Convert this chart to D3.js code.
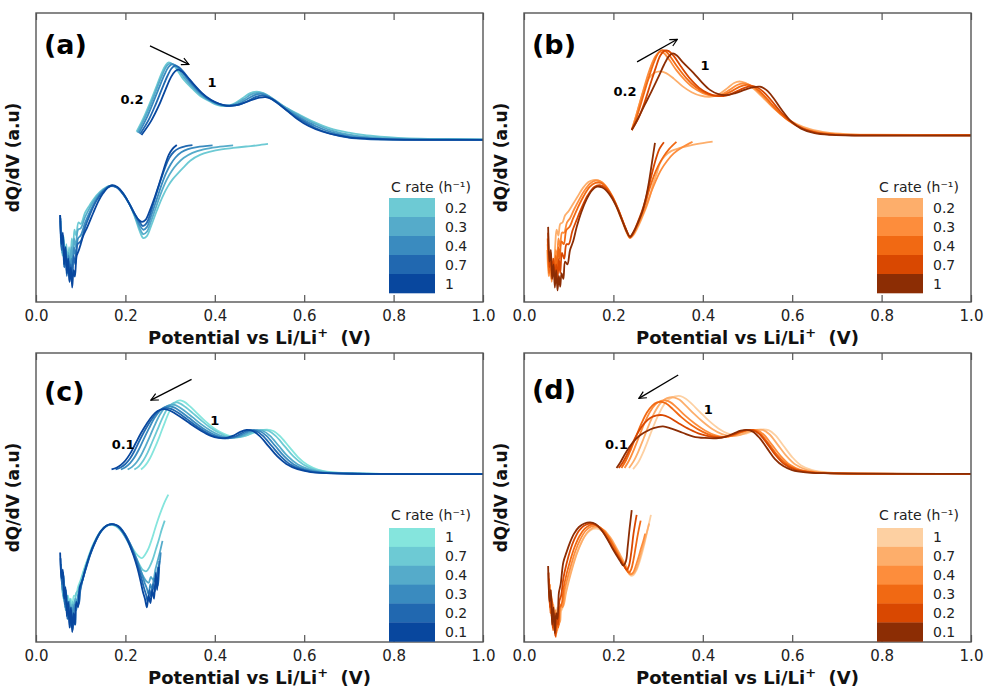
<!DOCTYPE html>
<html>
<head>
<meta charset="utf-8">
<script src="https://cdn.jsdelivr.net/npm/d3@7"></script>
<style>
  body { margin: 0; background: #fff; }
  svg { font-family: "DejaVu Sans", sans-serif; }
</style>
</head>
<body>
<div id="container"></div>
<script>
// ---------- data (potential in V, dQ/dV in arbitrary units) ----------
var xTicks = [0, 0.2, 0.4, 0.6, 0.8, 1.0];

// (a) blue, 0.2 -> 1
var ratesA = ["0.2", "0.3", "0.4", "0.7", "1"];
var chargeA = [
  [[0.225,58.9],[0.24,63.5],[0.255,68.9],[0.268,74],[0.28,78.8],[0.29,81.9],[0.297,82.9],[0.305,82.3],[0.315,80.5],[0.33,77],[0.35,73.8],[0.37,71],[0.39,69.3],[0.405,68.2],[0.42,67.8],[0.44,68.4],[0.46,70.3],[0.478,72.2],[0.494,72.8],[0.51,72.2],[0.53,70.2],[0.555,67.6],[0.583,65.3],[0.62,62.4],[0.658,60.1],[0.70,58.6],[0.732,57.8],[0.77,57.2],[0.81,56.8],[0.86,56.5],[0.92,56.4],[1.0,56.3]],
  [[0.227,58.6],[0.243,63.6],[0.258,69],[0.271,74.2],[0.283,78.8],[0.293,81.8],[0.301,82.6],[0.309,82],[0.32,80.2],[0.335,76.9],[0.355,73.6],[0.375,70.9],[0.395,69.1],[0.41,68.2],[0.425,67.9],[0.445,68.5],[0.465,70.2],[0.483,71.9],[0.499,72.4],[0.515,71.8],[0.535,69.8],[0.56,67.1],[0.588,64.6],[0.625,61.6],[0.66,59.4],[0.70,57.9],[0.74,57.1],[0.78,56.7],[0.83,56.4],[0.9,56.3],[1.0,56.2]],
  [[0.23,58.4],[0.247,63.5],[0.262,69],[0.275,74],[0.287,78.5],[0.297,81.4],[0.305,82.3],[0.313,81.8],[0.325,80],[0.34,76.8],[0.36,73.4],[0.38,70.7],[0.40,69],[0.415,68.2],[0.43,67.9],[0.45,68.4],[0.47,70],[0.488,71.5],[0.503,72],[0.518,71.3],[0.538,69.3],[0.563,66.4],[0.59,63.8],[0.625,60.9],[0.66,58.8],[0.70,57.4],[0.74,56.7],[0.78,56.4],[0.84,56.3],[1.0,56.2]],
  [[0.233,58.1],[0.252,63],[0.268,68.5],[0.282,73.8],[0.294,78.2],[0.303,80.8],[0.311,81.8],[0.319,81.3],[0.33,79.6],[0.345,76.5],[0.365,73.1],[0.385,70.4],[0.405,68.8],[0.42,68.1],[0.435,67.9],[0.455,68.3],[0.475,69.6],[0.492,71],[0.507,71.4],[0.522,70.7],[0.542,68.6],[0.566,65.7],[0.593,63],[0.625,60.2],[0.66,58.2],[0.70,56.9],[0.74,56.4],[0.79,56.2],[1.0,56.1]],
  [[0.236,57.8],[0.257,62.5],[0.275,68],[0.29,73.6],[0.302,77.8],[0.311,79.8],[0.318,80.4],[0.326,79.8],[0.337,78.2],[0.352,75.5],[0.372,72.2],[0.392,69.9],[0.41,68.6],[0.427,67.9],[0.445,68],[0.465,68.9],[0.485,70],[0.5,70.7],[0.514,70.9],[0.528,70.2],[0.547,68.1],[0.568,65.4],[0.583,63.5],[0.61,60.9],[0.64,59],[0.67,57.8],[0.70,57],[0.74,56.5],[0.8,56.2],[1.0,56.1]]
];
var dischargeA = [
  [[0.056,26],[0.059,16],[0.062,22.6],[0.065,14],[0.068,20],[0.071,12],[0.074,19],[0.077,13],[0.08,22],[0.083,18],[0.086,25],[0.09,23],[0.095,27.5],[0.10,27],[0.11,31],[0.12,33.5],[0.135,36.8],[0.15,39],[0.165,40.2],[0.18,39.8],[0.195,37.5],[0.21,33.5],[0.222,29],[0.232,24.5],[0.24,22.1],[0.248,22.8],[0.258,26.5],[0.27,31.5],[0.283,36.4],[0.295,40],[0.306,42.5],[0.318,44.6],[0.329,46.4],[0.345,48.9],[0.367,50.9],[0.39,52],[0.415,52.8],[0.441,53.3],[0.47,53.8],[0.495,54.2],[0.519,54.7]],
  [[0.055,28],[0.058,17],[0.061,23],[0.064,13],[0.067,19],[0.07,11],[0.073,17],[0.076,10],[0.079,19],[0.082,14],[0.085,22],[0.089,19],[0.094,25],[0.10,25.5],[0.11,29.5],[0.12,32.5],[0.135,36.3],[0.15,38.8],[0.165,40.2],[0.18,39.8],[0.195,37.4],[0.21,33.6],[0.222,29.4],[0.232,25.5],[0.24,23.5],[0.248,24.3],[0.258,28.2],[0.27,33.5],[0.282,38.6],[0.293,42.5],[0.304,45.4],[0.315,47.6],[0.33,49.8],[0.35,51.6],[0.375,52.8],[0.405,53.6],[0.441,54.2]],
  [[0.055,29],[0.058,18],[0.061,22],[0.064,12],[0.067,18],[0.07,10],[0.073,16],[0.076,8],[0.079,15],[0.082,11],[0.085,19],[0.089,16],[0.094,22],[0.10,23],[0.11,27.5],[0.12,31],[0.135,35.5],[0.15,38.5],[0.165,40.1],[0.18,39.7],[0.195,37.3],[0.21,33.6],[0.222,29.8],[0.232,26.6],[0.24,25],[0.248,25.9],[0.258,30],[0.27,35.5],[0.281,40.6],[0.291,44.6],[0.301,47.6],[0.312,50],[0.325,51.8],[0.34,52.9],[0.36,53.6],[0.395,54.2]],
  [[0.054,30],[0.057,18],[0.06,23],[0.063,12],[0.066,17],[0.069,9],[0.072,15],[0.075,7],[0.078,13],[0.081,8],[0.084,16],[0.088,13],[0.093,20],[0.10,21],[0.11,26],[0.12,30],[0.135,35],[0.15,38.2],[0.165,40],[0.18,39.7],[0.195,37.3],[0.21,33.7],[0.222,30.2],[0.232,27.6],[0.239,26.3],[0.247,27.2],[0.257,31.2],[0.268,36.8],[0.279,42.2],[0.289,46.6],[0.298,49.8],[0.308,51.9],[0.32,53.2],[0.335,53.9],[0.35,54.3]],
  [[0.054,30.1],[0.057,20],[0.06,24],[0.063,13],[0.066,19],[0.069,10],[0.072,15],[0.075,7],[0.078,12],[0.081,5],[0.084,11],[0.087,8.8],[0.091,16],[0.096,18],[0.10,20],[0.106,23],[0.115,26],[0.128,30.8],[0.14,35],[0.15,37.6],[0.16,39.5],[0.17,40.4],[0.182,39.8],[0.195,37.6],[0.208,34.2],[0.22,30.6],[0.23,28.4],[0.237,27.7],[0.245,28.4],[0.255,31.8],[0.266,36.4],[0.275,40.6],[0.283,44.5],[0.29,48],[0.297,50.9],[0.305,52.9],[0.315,54.3]]
];
var arrowA = [0.255, 88.6, 0.342, 82.2];
var notesA = [["0.2", 0.215, 69.9], ["1", 0.394, 75.8]];

// (b) orange, 0.2 -> 1
var ratesB = ["0.2", "0.3", "0.4", "0.7", "1"];
var chargeB = [
  [[0.241,59.5],[0.25,64],[0.26,69.5],[0.27,74.3],[0.28,77.5],[0.292,79.3],[0.305,79.8],[0.318,79.2],[0.335,77.3],[0.355,74.6],[0.375,72.6],[0.395,71.4],[0.415,71],[0.435,71.8],[0.455,74],[0.47,75.8],[0.482,76.3],[0.495,75.8],[0.51,74.3],[0.53,71.4],[0.555,67.6],[0.58,64.4],[0.61,61.6],[0.64,59.8],[0.68,58.6],[0.72,58.1],[0.78,57.9],[1.0,57.8]],
  [[0.241,59.5],[0.251,64.5],[0.262,70.5],[0.273,76.5],[0.284,81.6],[0.294,85],[0.303,86.5],[0.312,86.2],[0.325,83.8],[0.34,80.4],[0.36,76.8],[0.38,74],[0.40,72.3],[0.42,71.4],[0.44,71.7],[0.46,73.4],[0.477,75.1],[0.49,75.6],[0.503,75.2],[0.518,73.6],[0.538,70.6],[0.56,66.9],[0.585,63.6],[0.615,60.8],[0.645,59.2],[0.68,58.3],[0.73,57.9],[1.0,57.8]],
  [[0.241,59.5],[0.253,64.3],[0.265,70.4],[0.277,76.6],[0.288,81.8],[0.298,85.5],[0.307,87.1],[0.316,86.9],[0.328,84.8],[0.343,81.4],[0.363,77.5],[0.383,74.5],[0.403,72.5],[0.423,71.4],[0.443,71.5],[0.463,72.8],[0.483,74.5],[0.498,75.1],[0.511,74.7],[0.526,73.1],[0.545,70.1],[0.566,66.4],[0.59,63],[0.62,60.2],[0.65,58.8],[0.69,58],[0.74,57.8],[1.0,57.7]],
  [[0.241,59.5],[0.256,63.6],[0.27,69.2],[0.283,75.5],[0.295,81.2],[0.305,85.3],[0.315,87],[0.324,86.8],[0.336,84.9],[0.352,81.3],[0.372,77.2],[0.392,74.1],[0.412,72.2],[0.432,71.3],[0.452,71.4],[0.472,72.6],[0.492,74],[0.507,74.7],[0.52,74.4],[0.535,72.8],[0.553,69.8],[0.573,66],[0.596,62.6],[0.625,59.9],[0.655,58.5],[0.69,57.9],[0.74,57.7],[1.0,57.7]],
  [[0.241,59.5],[0.255,63.5],[0.27,68.2],[0.285,72.8],[0.3,77.6],[0.313,82],[0.324,85],[0.333,86],[0.342,85.3],[0.355,83],[0.379,79.3],[0.398,76],[0.416,73.4],[0.435,71.9],[0.453,71.6],[0.473,72.3],[0.495,73.5],[0.512,74.3],[0.528,74.5],[0.542,73.4],[0.558,70.6],[0.576,66.6],[0.597,62.6],[0.62,60],[0.65,58.4],[0.69,57.8],[0.74,57.6],[1.0,57.6]]
];
var dischargeB = [
  [[0.052,18],[0.055,9],[0.058,14],[0.061,8],[0.064,15],[0.067,12],[0.07,20],[0.073,25],[0.077,23],[0.081,27],[0.086,27.5],[0.092,30],[0.1,31.5],[0.11,34],[0.12,36.5],[0.132,39.5],[0.144,41.5],[0.155,42.2],[0.167,42],[0.18,40.5],[0.194,37.2],[0.208,32.5],[0.22,27.8],[0.23,23.8],[0.237,22.1],[0.245,23.2],[0.255,26],[0.265,29.5],[0.274,33],[0.282,36.8],[0.289,41],[0.297,44.5],[0.304,48],[0.315,50.5],[0.33,52.3],[0.349,53.3],[0.375,54.3],[0.40,55],[0.422,55.5]],
  [[0.053,20],[0.056,9],[0.059,15],[0.062,7],[0.065,14],[0.068,10],[0.071,18],[0.074,14],[0.077,22],[0.081,19],[0.085,24],[0.09,24],[0.096,27.5],[0.103,29],[0.112,32],[0.122,35],[0.135,38.5],[0.148,41],[0.16,42],[0.172,41.7],[0.185,39.8],[0.198,36.5],[0.211,32],[0.222,27.5],[0.231,23.8],[0.237,22.2],[0.245,23.5],[0.254,26.3],[0.264,29.7],[0.274,33.4],[0.284,37.8],[0.295,42],[0.307,45.8],[0.32,48.8],[0.335,51.4],[0.355,53.6],[0.377,55.4]],
  [[0.053,22],[0.056,10],[0.059,16],[0.062,8],[0.065,14],[0.068,9],[0.071,16],[0.074,11],[0.077,19],[0.08,15],[0.084,21],[0.089,20],[0.095,25],[0.102,26],[0.11,29],[0.12,32.5],[0.133,36.5],[0.147,39.8],[0.16,41.2],[0.172,41.2],[0.185,39.5],[0.198,36.3],[0.211,32],[0.222,27.5],[0.231,24],[0.237,22.3],[0.245,23.8],[0.254,26.8],[0.263,30.2],[0.272,34.3],[0.28,38.8],[0.29,43.4],[0.30,47],[0.312,50.3],[0.325,53],[0.341,55.4]],
  [[0.054,24],[0.057,12],[0.06,17],[0.063,9],[0.066,15],[0.069,7],[0.072,13],[0.075,8],[0.078,15],[0.081,10],[0.085,17],[0.09,15],[0.095,20],[0.10,20],[0.108,24.5],[0.118,28.5],[0.13,33],[0.143,37],[0.157,39.8],[0.17,40.4],[0.183,39.3],[0.197,36.4],[0.21,32.2],[0.222,27.6],[0.231,24.2],[0.237,22.5],[0.245,24.2],[0.254,27.4],[0.263,31],[0.272,35.5],[0.28,40.5],[0.288,45.5],[0.296,50],[0.303,53],[0.313,55.3]],
  [[0.054,26],[0.057,14],[0.06,18],[0.063,8],[0.066,13],[0.069,5],[0.072,11],[0.075,4],[0.078,9],[0.081,5.3],[0.084,10],[0.088,8],[0.092,14],[0.097,13],[0.103,18],[0.11,21],[0.118,26],[0.128,31],[0.14,35.5],[0.152,38.6],[0.163,39.9],[0.175,39.6],[0.19,37.5],[0.205,33.6],[0.218,28.8],[0.228,25],[0.237,22.6],[0.246,24.5],[0.255,27.5],[0.265,31.5],[0.274,37],[0.28,42],[0.286,48],[0.293,55.1]]
];
var arrowB = [0.253, 83.1, 0.343, 90.9];
var notesB = [["0.2", 0.226, 73], ["1", 0.405, 81.7]];

// (c) blue, 1 -> 0.1
var ratesC = ["1", "0.7", "0.4", "0.3", "0.2", "0.1"];
var chargeC = [
  [[0.235,59.7],[0.245,61.2],[0.255,63.6],[0.265,66.9],[0.276,71],[0.287,75.5],[0.298,79.6],[0.308,82.3],[0.316,83.4],[0.323,83.6],[0.332,83.1],[0.344,81.6],[0.36,79.2],[0.378,76.5],[0.398,74],[0.418,72.2],[0.435,71.2],[0.448,71],[0.465,71.3],[0.483,72.2],[0.5,73.1],[0.517,73.5],[0.531,73],[0.546,71.2],[0.566,67.6],[0.586,64],[0.607,61.3],[0.632,59.6],[0.66,58.8],[0.7,58.4],[0.77,58.2],[1.0,58.1]],
  [[0.22,59.7],[0.23,60.8],[0.24,62.8],[0.25,65.6],[0.26,69.2],[0.271,73.2],[0.282,77.2],[0.293,80.5],[0.303,82.3],[0.313,82.9],[0.323,82.5],[0.335,81.2],[0.35,79.3],[0.368,76.9],[0.388,74.4],[0.408,72.5],[0.426,71.2],[0.44,70.8],[0.456,70.9],[0.473,71.6],[0.49,72.8],[0.507,73.4],[0.521,73],[0.536,71.3],[0.556,67.8],[0.576,64.2],[0.598,61.4],[0.622,59.7],[0.652,58.8],[0.69,58.4],[0.76,58.2],[1.0,58.1]],
  [[0.205,59.7],[0.215,60.6],[0.225,62.2],[0.235,64.6],[0.245,67.8],[0.256,71.6],[0.267,75.5],[0.278,78.9],[0.289,81.1],[0.298,82],[0.307,82.1],[0.318,81.5],[0.332,80],[0.35,77.8],[0.37,75.3],[0.39,73.2],[0.41,71.6],[0.428,70.8],[0.444,70.7],[0.461,71.3],[0.478,72.5],[0.494,73.3],[0.508,73],[0.523,71.4],[0.543,67.9],[0.563,64.3],[0.585,61.5],[0.61,59.8],[0.64,58.8],[0.68,58.4],[0.75,58.2],[1.0,58.1]],
  [[0.19,59.7],[0.2,60.5],[0.21,61.8],[0.22,63.8],[0.23,66.6],[0.241,70.2],[0.253,74],[0.265,77.5],[0.277,80],[0.288,81.3],[0.298,81.6],[0.31,81.1],[0.324,79.7],[0.342,77.6],[0.362,75.2],[0.382,73.1],[0.402,71.5],[0.42,70.7],[0.436,70.6],[0.453,71.2],[0.47,72.5],[0.486,73.3],[0.5,73],[0.515,71.4],[0.535,67.9],[0.555,64.3],[0.576,61.5],[0.6,59.8],[0.63,58.8],[0.67,58.4],[0.74,58.2],[1.0,58.1]],
  [[0.178,59.7],[0.189,60.4],[0.2,61.6],[0.21,63.4],[0.22,66],[0.232,69.8],[0.245,73.6],[0.258,76.9],[0.27,79.3],[0.281,80.6],[0.292,81],[0.305,80.5],[0.319,79.2],[0.337,77.2],[0.357,74.9],[0.377,72.9],[0.397,71.3],[0.415,70.6],[0.43,70.5],[0.447,71.2],[0.463,72.5],[0.478,73.3],[0.492,73],[0.507,71.4],[0.527,67.9],[0.547,64.3],[0.567,61.6],[0.592,59.8],[0.62,58.8],[0.66,58.4],[0.73,58.2],[1.0,58.1]],
  [[0.169,59.7],[0.18,60.3],[0.19,61.3],[0.2,62.8],[0.21,65],[0.222,68.5],[0.235,72.3],[0.248,75.6],[0.26,78.2],[0.272,79.9],[0.285,80.6],[0.298,80.2],[0.312,79],[0.33,77.2],[0.35,75],[0.37,73],[0.39,71.4],[0.408,70.6],[0.423,70.5],[0.44,71.3],[0.456,72.6],[0.471,73.4],[0.485,73],[0.5,71.3],[0.52,67.8],[0.54,64.2],[0.56,61.6],[0.585,59.8],[0.615,58.8],[0.65,58.4],[0.72,58.2],[1.0,58.1]]
];
var dischargeC = [
  [[0.06,21],[0.063,14],[0.066,18],[0.069,11],[0.072,16],[0.075,10],[0.078,15],[0.081,11],[0.085,16],[0.089,16],[0.094,19],[0.1,21.5],[0.107,25],[0.116,29],[0.127,33.5],[0.14,37.3],[0.153,39.7],[0.166,40.5],[0.178,40.1],[0.19,38.6],[0.202,36],[0.213,33.2],[0.223,30.8],[0.231,29.5],[0.237,29],[0.244,30.2],[0.252,32.5],[0.259,35.5],[0.266,39],[0.273,42.4],[0.281,45.8],[0.288,48.5],[0.296,51]],
  [[0.058,23],[0.061,15],[0.064,19],[0.067,11],[0.07,16],[0.073,9],[0.076,15],[0.079,9],[0.082,14],[0.086,12],[0.09,17],[0.095,18],[0.101,21.5],[0.108,25],[0.118,29.5],[0.13,34],[0.143,37.8],[0.156,40],[0.168,40.6],[0.18,40.1],[0.192,38.2],[0.204,35.3],[0.215,32],[0.225,28.8],[0.233,26.3],[0.24,24.8],[0.247,24.5],[0.254,26],[0.261,28.5],[0.268,32],[0.275,35.5],[0.281,38.8],[0.288,42]],
  [[0.057,25],[0.06,16],[0.063,21],[0.066,11],[0.069,16],[0.072,8],[0.075,14],[0.078,7],[0.081,13],[0.084,9],[0.088,15],[0.092,14],[0.097,19],[0.103,21],[0.11,25],[0.12,30],[0.131,34.5],[0.144,38.2],[0.157,40.2],[0.169,40.7],[0.181,40.1],[0.193,38],[0.205,34.8],[0.216,31.2],[0.226,27.8],[0.234,24.8],[0.241,22.4],[0.247,21],[0.252,20.5],[0.257,22.5],[0.262,21.5],[0.267,25],[0.272,28],[0.277,31],[0.283,35]],
  [[0.056,27],[0.059,18],[0.062,23],[0.065,12],[0.068,17],[0.071,8],[0.074,14],[0.077,6],[0.08,12],[0.083,7],[0.086,13],[0.09,11],[0.094,16],[0.099,18],[0.105,22],[0.113,26.5],[0.124,31.5],[0.136,35.8],[0.149,38.9],[0.162,40.5],[0.174,40.7],[0.186,39.8],[0.198,37.5],[0.21,34.2],[0.221,30.3],[0.23,26.6],[0.237,23.4],[0.243,20.5],[0.248,18.5],[0.252,16.5],[0.256,20],[0.26,18],[0.264,22],[0.268,20.5],[0.272,25],[0.276,27],[0.279,31]],
  [[0.055,29],[0.058,20],[0.061,24],[0.064,13],[0.067,18],[0.07,8],[0.073,13],[0.076,5],[0.079,11],[0.082,4],[0.085,9],[0.088,6],[0.091,13],[0.095,13],[0.1,19],[0.105,22],[0.112,25.5],[0.122,30.5],[0.134,35],[0.147,38.6],[0.16,40.4],[0.172,40.8],[0.184,40.1],[0.197,37.8],[0.209,34.3],[0.22,30],[0.229,25.8],[0.236,22],[0.241,19],[0.246,16.5],[0.25,14],[0.254,18],[0.258,15.5],[0.262,20],[0.266,17.5],[0.27,22],[0.273,19.5],[0.276,28]],
  [[0.054,31],[0.057,22],[0.06,25],[0.063,15],[0.066,19],[0.069,9],[0.072,14],[0.075,5],[0.078,12],[0.081,3.4],[0.084,10],[0.087,6],[0.09,14],[0.094,12],[0.098,19],[0.103,21],[0.11,25],[0.12,30],[0.132,34.6],[0.145,38.3],[0.158,40.3],[0.17,40.8],[0.182,40.2],[0.195,38],[0.207,34.5],[0.218,30],[0.227,25.5],[0.234,21],[0.239,17.5],[0.244,14.8],[0.248,12],[0.252,16],[0.256,13.5],[0.26,18],[0.264,15],[0.268,24],[0.271,18],[0.274,26]]
];
var arrowC = [0.348, 90.9, 0.257, 83.7];
var notesC = [["0.1", 0.195, 68.5], ["1", 0.4, 76.8]];

// (d) orange, 1 -> 0.1
var ratesD = ["1", "0.7", "0.4", "0.3", "0.2", "0.1"];
var chargeD = [
  [[0.244,59.8],[0.255,62],[0.266,65.4],[0.278,70],[0.29,74.8],[0.302,79],[0.314,82.3],[0.326,84.2],[0.338,85],[0.35,85.1],[0.362,84.2],[0.376,82.3],[0.394,79.5],[0.414,76.5],[0.435,73.9],[0.455,72.2],[0.474,71.6],[0.493,72],[0.511,72.9],[0.53,73.5],[0.547,73.3],[0.562,71.6],[0.58,68],[0.6,64],[0.62,61.1],[0.645,59.5],[0.675,58.8],[0.715,58.4],[1.0,58.2]],
  [[0.235,60.2],[0.245,62.5],[0.256,66],[0.268,70.6],[0.28,75.3],[0.292,79.4],[0.304,82.4],[0.315,84],[0.326,84.6],[0.337,84.6],[0.348,83.8],[0.362,81.8],[0.38,79],[0.4,76.2],[0.422,73.6],[0.443,71.9],[0.462,71.3],[0.482,71.6],[0.5,72.6],[0.518,73.4],[0.534,73.4],[0.549,71.9],[0.567,68.4],[0.587,64.4],[0.608,61.3],[0.632,59.6],[0.662,58.8],[0.7,58.4],[1.0,58.2]],
  [[0.225,60.2],[0.235,62.8],[0.246,66.6],[0.258,71.3],[0.27,75.9],[0.282,79.7],[0.294,82.2],[0.305,83.4],[0.316,83.6],[0.327,83],[0.342,81.1],[0.36,78.4],[0.382,75.6],[0.405,73.2],[0.427,71.6],[0.447,71],[0.467,71.4],[0.487,72.5],[0.505,73.3],[0.521,73.3],[0.536,71.8],[0.554,68.4],[0.574,64.4],[0.595,61.3],[0.618,59.6],[0.648,58.8],[0.69,58.4],[1.0,58.2]],
  [[0.218,60.2],[0.228,62.8],[0.239,66.6],[0.251,71.2],[0.263,75.7],[0.275,79.4],[0.287,81.8],[0.298,82.9],[0.307,83.1],[0.318,82.5],[0.333,80.6],[0.352,77.8],[0.375,75],[0.4,72.7],[0.422,71.3],[0.443,70.8],[0.463,71.3],[0.483,72.5],[0.5,73.3],[0.515,73.3],[0.53,71.8],[0.548,68.5],[0.567,64.6],[0.588,61.5],[0.61,59.7],[0.64,58.8],[0.68,58.4],[1.0,58.2]],
  [[0.212,60.2],[0.222,62.4],[0.233,65.6],[0.245,69.5],[0.257,73],[0.27,75.8],[0.283,77.6],[0.297,78.4],[0.31,78.5],[0.325,77.7],[0.345,75.8],[0.37,73.6],[0.395,71.9],[0.42,71],[0.442,70.8],[0.462,71.5],[0.481,72.6],[0.497,73.3],[0.512,73.3],[0.526,72],[0.543,68.8],[0.562,64.8],[0.582,61.6],[0.605,59.7],[0.635,58.8],[0.675,58.4],[1.0,58.2]],
  [[0.207,60.2],[0.215,62],[0.225,64.8],[0.237,67.7],[0.25,70.2],[0.262,71.8],[0.274,72.9],[0.29,74],[0.311,74.6],[0.33,73.8],[0.355,72.4],[0.379,71.1],[0.405,70.6],[0.43,70.5],[0.45,71],[0.47,72.2],[0.485,73.1],[0.498,73.4],[0.512,72.8],[0.527,70.6],[0.544,67],[0.561,63.4],[0.58,60.9],[0.6,59.5],[0.63,58.7],[0.67,58.4],[1.0,58.2]]
];
var dischargeD = [
  [[0.062,16],[0.065,8],[0.068,12],[0.071,6],[0.074,12],[0.077,6],[0.08,11],[0.084,11],[0.09,15],[0.097,20],[0.105,24.5],[0.114,29],[0.124,33],[0.136,36.6],[0.149,38.7],[0.162,39.2],[0.175,38.4],[0.188,36.2],[0.2,33.2],[0.212,30],[0.222,27],[0.231,24.5],[0.238,23],[0.245,23.2],[0.252,25],[0.26,28.5],[0.268,33],[0.276,38.5],[0.284,44]],
  [[0.06,18],[0.063,8],[0.066,13],[0.069,5],[0.072,11],[0.075,4],[0.078,10],[0.081,7],[0.084,12],[0.088,12.5],[0.094,17],[0.101,21.5],[0.109,26],[0.118,30.5],[0.129,34.6],[0.141,37.8],[0.154,39.5],[0.167,39.7],[0.18,38.6],[0.193,36.2],[0.205,33.1],[0.216,29.9],[0.226,27],[0.234,24.6],[0.24,23.3],[0.246,23.8],[0.253,26],[0.26,29.5],[0.267,33.5],[0.274,37.5],[0.28,41]],
  [[0.058,20],[0.061,9],[0.064,14],[0.067,5],[0.07,11],[0.073,3],[0.076,10],[0.079,6],[0.082,13],[0.086,12],[0.091,18],[0.098,22.5],[0.106,27],[0.115,31.5],[0.126,35.5],[0.138,38.5],[0.151,40],[0.164,40.1],[0.177,38.8],[0.19,36.3],[0.202,33.2],[0.213,30],[0.223,27],[0.232,24.5],[0.238,23.4],[0.244,24],[0.25,26.3],[0.256,29.2],[0.262,32.5],[0.267,35],[0.271,37.5]],
  [[0.056,22],[0.059,10],[0.062,15],[0.065,4],[0.068,9],[0.071,1.7],[0.074,8],[0.077,5],[0.08,12],[0.084,13],[0.089,19],[0.096,24],[0.104,28.5],[0.113,32.8],[0.124,36.6],[0.136,39.2],[0.149,40.5],[0.162,40.4],[0.175,39],[0.188,36.4],[0.2,33.2],[0.211,30],[0.221,27.2],[0.229,25],[0.235,24],[0.24,25.2],[0.245,28.5],[0.25,33],[0.255,37.5],[0.261,42]],
  [[0.055,24],[0.058,12],[0.061,16],[0.064,5],[0.067,10],[0.07,2],[0.073,9],[0.076,6],[0.079,14],[0.083,16],[0.088,22],[0.095,27],[0.103,31.5],[0.112,35.3],[0.123,38.5],[0.135,40.3],[0.148,41],[0.16,40.6],[0.172,39],[0.185,36.2],[0.197,33],[0.208,30.2],[0.217,28],[0.225,26],[0.23,25],[0.235,26.5],[0.24,31],[0.245,37.5],[0.252,44]],
  [[0.054,26.3],[0.057,14],[0.06,18],[0.063,6],[0.066,12],[0.069,3],[0.072,10],[0.075,8],[0.078,17],[0.082,20],[0.088,27.6],[0.095,31],[0.103,34.5],[0.112,37.5],[0.123,39.8],[0.135,41],[0.148,41.4],[0.16,40.8],[0.172,39],[0.185,36],[0.197,32.6],[0.207,30],[0.215,28],[0.222,26.5],[0.228,28],[0.232,33],[0.236,39],[0.241,45.6]]
];
var arrowD = [0.345, 92.4, 0.257, 84.3];
var notesD = [["0.1", 0.207, 68.2], ["1", 0.412, 80.5]];

// ---------- colours ----------
var bluesA = ["#6dcad4", "#55abca", "#3a8bbf", "#2168b0", "#08479e"];
var orangesB = ["#fdae6b", "#fd8d3c", "#f16913", "#d94801", "#8c2d04"];
var bluesC = ["#85e5dd", "#6dcad4", "#55abca", "#3a8bbf", "#2168b0", "#08479e"];
var orangesD = ["#fdd0a2", "#fdae6b", "#fd8d3c", "#f16913", "#d94801", "#8c2d04"];

// ---------- layout ----------
var W = 985, H = 695;
var plotW = 447;
var svg = d3.select("#container").append("svg")
  .attr("width", W).attr("height", H);

var defs = svg.append("defs");
defs.append("marker")
  .attr("id", "head")
  .attr("viewBox", "0 0 10 10")
  .attr("refX", 9).attr("refY", 5)
  .attr("markerWidth", 9).attr("markerHeight", 9)
  .attr("markerUnits", "userSpaceOnUse")
  .attr("orient", "auto")
  .append("path")
  .attr("d", "M1,1 L9,5 L1,9")
  .attr("fill", "none")
  .attr("stroke", "#000")
  .attr("stroke-width", 1.3);

var panels = [
  { tag: "(a)", left: 36, top: 13, bottom: 302, tagY: 54, rates: ratesA, colors: bluesA, charge: chargeA, discharge: dischargeA, arrow: arrowA, notes: notesA, legTop: 198, rowH: 19, titleY: 187 },
  { tag: "(b)", left: 524, top: 13, bottom: 302, tagY: 54, rates: ratesB, colors: orangesB, charge: chargeB, discharge: dischargeB, arrow: arrowB, notes: notesB, legTop: 198, rowH: 19, titleY: 187 },
  { tag: "(c)", left: 36, top: 353, bottom: 642, tagY: 401, rates: ratesC, colors: bluesC, charge: chargeC, discharge: dischargeC, arrow: arrowC, notes: notesC, legTop: 528, rowH: 18.9, titleY: 515 },
  { tag: "(d)", left: 524, top: 353, bottom: 642, tagY: 399, rates: ratesD, colors: orangesD, charge: chargeD, discharge: dischargeD, arrow: arrowD, notes: notesD, legTop: 528, rowH: 18.9, titleY: 515 }
];

panels.forEach(drawPanel);

function drawPanel(p) {
  var g = svg.append("g");
  var x = d3.scaleLinear().domain([0, 1]).range([p.left, p.left + plotW]);
  var y = d3.scaleLinear().domain([0, 100]).range([p.bottom, p.top]);

  var line = d3.line()
    .x(function (d) { return x(d[0]); })
    .y(function (d) { return y(d[1]); })
    .curve(d3.curveCatmullRom.alpha(0.5));

  // curves, one colour per C rate, drawn in legend order
  p.rates.forEach(function (r, i) {
    [p.charge[i], p.discharge[i]].forEach(function (pts) {
      g.append("path")
        .attr("d", line(pts))
        .attr("fill", "none")
        .attr("stroke", p.colors[i])
        .attr("stroke-width", 1.8)
        .attr("stroke-linejoin", "round");
    });
  });

  // frame + inward ticks (top and bottom)
  g.append("rect")
    .attr("x", p.left).attr("y", p.top)
    .attr("width", plotW).attr("height", p.bottom - p.top)
    .attr("fill", "none").attr("stroke", "#555").attr("stroke-width", 1.4);

  var bottomAxis = g.append("g")
    .attr("transform", "translate(0," + p.bottom + ")")
    .call(d3.axisBottom(x).tickValues(xTicks).tickSizeInner(-7).tickSizeOuter(0)
      .tickPadding(8).tickFormat(d3.format(".1f")));
  bottomAxis.select(".domain").remove();
  bottomAxis.selectAll("line").attr("stroke", "#555").attr("stroke-width", 1.2);
  bottomAxis.selectAll("text").attr("font-size", 15).attr("fill", "#222")
    .attr("font-family", "DejaVu Sans");

  var topAxis = g.append("g")
    .attr("transform", "translate(0," + p.top + ")")
    .call(d3.axisTop(x).tickValues(xTicks).tickSizeInner(-7).tickSizeOuter(0).tickFormat(""));
  topAxis.select(".domain").remove();
  topAxis.selectAll("line").attr("stroke", "#555").attr("stroke-width", 1.2);

  // axis titles
  var xt = g.append("text")
    .attr("x", p.left + plotW / 2).attr("y", p.bottom + 42)
    .attr("text-anchor", "middle")
    .attr("font-size", 18).attr("font-weight", "bold").attr("fill", "#111");
  xt.append("tspan").text("Potential vs Li/Li");
  xt.append("tspan").attr("font-size", 13).attr("dy", -7).text("+");
  xt.append("tspan").attr("dy", 7).text("\u00a0 (V)");

  g.append("text")
    .attr("transform", "translate(" + (p.left - 17) + "," + ((p.top + p.bottom) / 2) + ") rotate(-90)")
    .attr("text-anchor", "middle")
    .attr("font-size", 17).attr("font-weight", "bold").attr("fill", "#111")
    .text("dQ/dV (a.u)");

  // panel tag
  g.append("text")
    .attr("x", p.left + 8).attr("y", p.tagY)
    .attr("font-size", 27).attr("font-weight", "bold").attr("fill", "#000")
    .text(p.tag);

  // arrow + rate notes
  g.append("line")
    .attr("x1", x(p.arrow[0])).attr("y1", y(p.arrow[1]))
    .attr("x2", x(p.arrow[2])).attr("y2", y(p.arrow[3]))
    .attr("stroke", "#000").attr("stroke-width", 1.3)
    .attr("marker-end", "url(#head)");

  p.notes.forEach(function (n) {
    g.append("text")
      .attr("x", x(n[1])).attr("y", y(n[2]))
      .attr("text-anchor", "middle").attr("dominant-baseline", "central")
      .attr("font-size", 13).attr("font-weight", "bold").attr("fill", "#000")
      .text(n[0]);
  });

  // legend
  var lx = p.left + 353;
  g.append("text")
    .attr("x", lx + 42).attr("y", p.titleY)
    .attr("text-anchor", "middle").attr("dominant-baseline", "central")
    .attr("font-size", 14).attr("fill", "#222")
    .text("C rate (h\u207b\u00b9)");

  p.rates.forEach(function (r, i) {
    var ry = p.legTop + i * p.rowH;
    g.append("rect")
      .attr("x", lx).attr("y", ry)
      .attr("width", 46).attr("height", p.rowH + 0.3)
      .attr("fill", p.colors[i]);
    g.append("text")
      .attr("x", lx + 56).attr("y", ry + p.rowH / 2)
      .attr("dominant-baseline", "central")
      .attr("font-size", 14).attr("fill", "#222")
      .text(r);
  });
}
</script>
</body>
</html>
